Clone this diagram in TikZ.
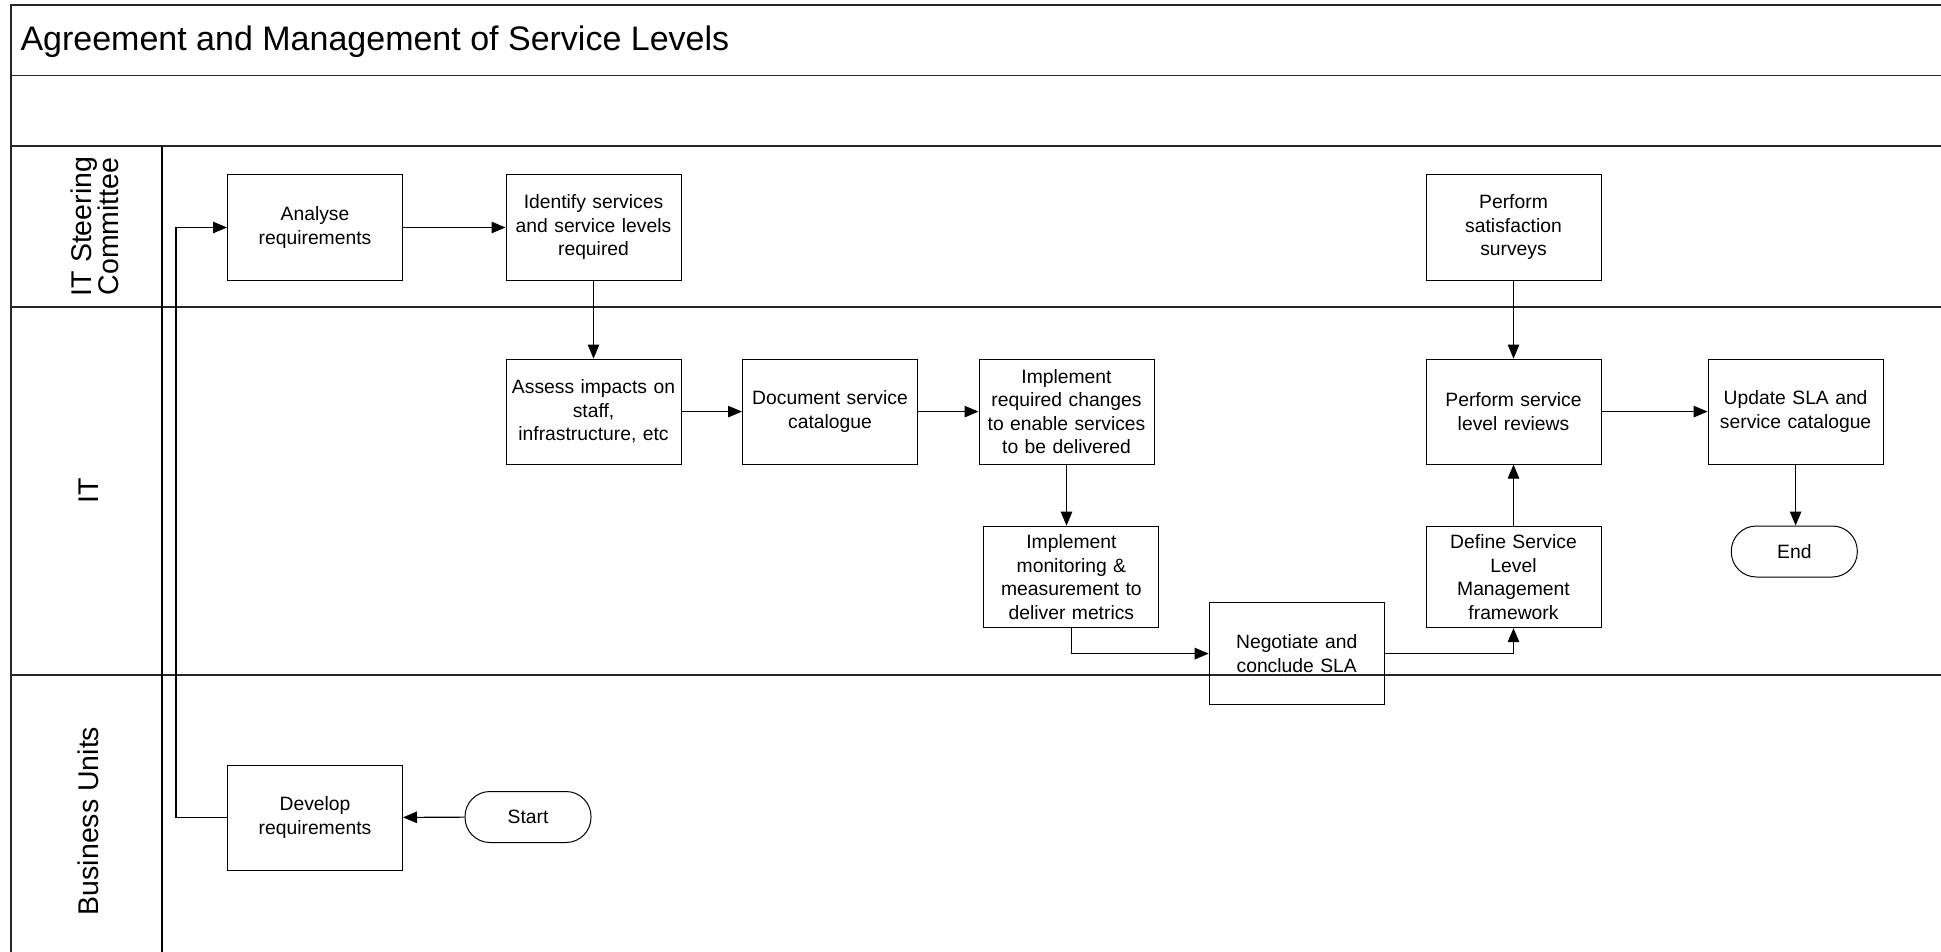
\documentclass[tikz,border=0pt]{standalone}
\usepackage{fontspec}
\setmainfont{Liberation Sans}
\usetikzlibrary{arrows.meta,positioning}

\tikzset{
  lane/.style={line width=1.8pt, draw=black!85},
  stepbox/.style={draw, line width=1pt, rectangle, minimum width=175pt,
    minimum height=105pt, text width=168pt, align=center,
    inner sep=2pt, font=\fontsize{19.3}{23.5}\selectfont},
  shortbox/.style={stepbox, minimum height=101.5pt},
  terminal/.style={draw, line width=1pt, rectangle, rounded corners=25pt,
    minimum width=126pt, minimum height=51pt, align=center,
    font=\fontsize{19.3}{23.5}\selectfont},
  flow/.style={line width=1.1pt, -{Triangle[length=14pt,width=11.5pt]}},
  lanelabel/.style={rotate=90, align=center,
    font=\fontsize{28.5}{27.5}\selectfont}
}

\begin{document}
\begin{tikzpicture}[x=1pt,y=-1pt]
\useasboundingbox (0,0) rectangle (1941,952);
\fill[white] (0,0) rectangle (1941,952);

% pool frame and lanes
\draw[lane] (11,952) -- (11,5) -- (1941,5);
\draw[lane] (11,75.5) -- (1941,75.5);
\draw[lane] (11,146) -- (1941,146);
\draw[lane] (11,307) -- (1941,307);
\draw[lane] (11,675) -- (1941,675);
\draw[line width=1.4pt] (162,146) -- (162,952);

% title and lane names
\node[anchor=west, font=\fontsize{34}{40}\selectfont] (title) at (17,42) {Agreement and Management of Service Levels};
\node[lanelabel] (laneSC) at (95,226.5) {IT Steering\\Committee};
\node[lanelabel] (laneIT) at (89,491) {IT};
\node[lanelabel] (laneBU) at (88,821) {Business Units};

% steps
\node[stepbox] (analyse) at (315,227.5) {Analyse\\requirements};
\node[stepbox] (identify) at (593.5,227.5) {Identify services\\and service levels\\required};
\node[stepbox] (survey) at (1513.5,227.5) {Perform\\satisfaction\\surveys};
\node[stepbox] (assess) at (593.5,411.6) {Assess impacts on\\staff,\\infrastructure, etc};
\node[stepbox] (document) at (830,411.6) {Document service\\catalogue};
\node[stepbox] (changes) at (1066.5,411.6) {Implement\\required changes\\to enable services\\to be delivered};
\node[stepbox] (reviews) at (1513.5,411.6) {Perform service\\level reviews};
\node[stepbox] (update) at (1795.6,411.6) {Update SLA and\\service catalogue};
\node[shortbox] (monitor) at (1071.4,576.9) {Implement\\monitoring \&\\measurement to\\deliver metrics};
\node[shortbox] (define) at (1513.5,576.9) {Define Service\\Level\\Management\\framework};
\node[shortbox] (negotiate) at (1296.7,653.6) {Negotiate and\\conclude SLA};
\node[stepbox] (develop) at (315,817.6) {Develop\\requirements};
\node[terminal] (start) at (528,817) {Start};
\node[terminal] (end) at (1794.3,551.5) {End};

% flow
\coordinate (loop) at (176,0);
\draw[flow] (start) -- (develop);
\draw[flow] (develop.west) -- (develop.west -| loop) |- (analyse.west);
\draw[flow] (analyse) -- (identify);
\draw[flow] (identify) -- (assess);
\draw[flow] (assess) -- (document);
\draw[flow] (document) -- (changes);
\draw[flow] (changes.south) -- (changes.south |- monitor.north);
\draw[flow] (monitor.south) |- (negotiate.west);
\draw[flow] (negotiate.east) -| (define.south);
\draw[flow] (define) -- (reviews);
\draw[flow] (survey) -- (reviews);
\draw[flow] (reviews) -- (update);
\draw[flow] (update.south) -- (update.south |- end.north);
\end{tikzpicture}
\end{document}
